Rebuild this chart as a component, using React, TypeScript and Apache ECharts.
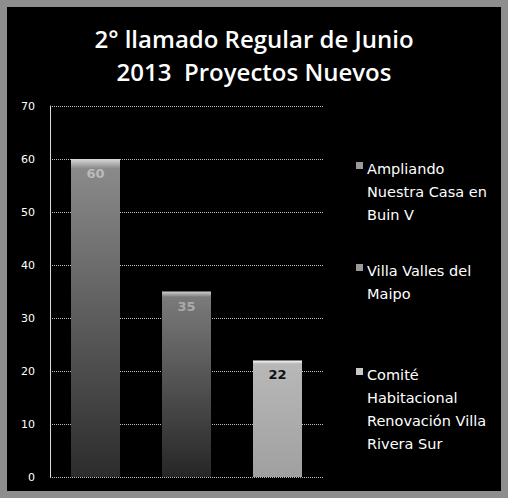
import React, { useEffect, useRef } from "react";
import * as echarts from "echarts";

const titleLines = ["2° llamado Regular de Junio", "2013  Proyectos Nuevos"];
const categories = [
  "Ampliando Nuestra Casa en Buin V",
  "Villa Valles del Maipo",
  "Comité Habitacional Renovación Villa Rivera Sur",
];
const values = [60, 35, 22];
const legendLines = [
  ["Ampliando", "Nuestra Casa en", "Buin V"],
  ["Villa Valles del", "Maipo"],
  ["Comité", "Habitacional", "Renovación Villa", "Rivera Sur"],
];
const yTicks = { min: 0, max: 70, interval: 10 };

const barColors = [
  ["#d8d8d8", "#8a8a8a", "#2c2c2c"],
  ["#d0d0d0", "#7a7a7a", "#262626"],
  ["#ffffff", "#b8b8b8", "#a0a0a0"],
];
const labelColors = ["#bbbbbb", "#aaaaaa", "#111111"];
const legendIconColors = ["#9a9a9a", "#9a9a9a", "#c8c8c8"];
const legendTops = [150, 252, 356];

export default function App() {
  const ref = useRef<HTMLDivElement>(null);
  useEffect(() => {
    if (!ref.current) return;
    const chart = echarts.init(ref.current, undefined, { renderer: "svg" });
    const grad = (c: string[]) =>
      new echarts.graphic.LinearGradient(0, 0, 0, 1, [
        { offset: 0, color: c[0] },
        { offset: 0.03, color: c[1] },
        { offset: 1, color: c[2] },
      ]);
    const graphics: any[] = [];
    legendLines.forEach((lines, i) => {
      graphics.push({
        type: "rect",
        left: 349,
        top: legendTops[i] + 5,
        shape: { width: 7, height: 7 },
        style: { fill: legendIconColors[i] },
      });
      graphics.push({
        type: "text",
        left: 360,
        top: legendTops[i],
        style: {
          text: lines.join("\n"),
          fill: "#ffffff",
          font: "14.5px 'DejaVu Sans'",
          lineHeight: 23,
        },
      });
    });
    chart.setOption({
      animation: false,
      backgroundColor: "#000000",
      title: {
        text: titleLines.join("\n"),
        left: "center",
        top: 10,
        textStyle: {
          color: "#ffffff",
          fontFamily: "Open Sans",
          fontWeight: 600,
          fontSize: 24,
          lineHeight: 33,
        },
      },
      grid: { left: 43, right: 178, top: 99, bottom: 14 },
      xAxis: {
        type: "category",
        data: categories,
        axisLine: { show: false },
        axisTick: { show: false },
        axisLabel: { show: false },
      },
      yAxis: {
        type: "value",
        min: yTicks.min,
        max: yTicks.max,
        interval: yTicks.interval,
        axisLine: { show: true, lineStyle: { color: "#dddddd", width: 1 } },
        axisTick: { show: false },
        axisLabel: {
          color: "#ffffff",
          fontSize: 11,
          fontFamily: "DejaVu Sans",
          margin: 15,
        },
        splitLine: {
          show: true,
          lineStyle: { color: "#bdbdbd", type: "dotted", width: 1 },
        },
      },
      series: [
        {
          type: "bar",
          barWidth: 49,
          data: values.map((v, i) => ({
            value: v,
            itemStyle: { color: grad(barColors[i]) },
            label: { color: labelColors[i] },
          })),
          label: {
            show: true,
            position: "insideTop",
            distance: 8,
            fontSize: 13,
            fontWeight: "bold",
            fontFamily: "DejaVu Sans",
          },
        },
      ],
      graphic: graphics,
    });
    return () => chart.dispose();
  }, []);
  return (
    <div
      style={{
        position: "fixed",
        left: 0,
        top: 0,
        width: 508,
        height: 498,
        background: "#8e8e8e",
      }}
    >
      <div
        ref={ref}
        style={{ position: "absolute", left: 7, top: 7, width: 494, height: 484 }}
      />
    </div>
  );
}
